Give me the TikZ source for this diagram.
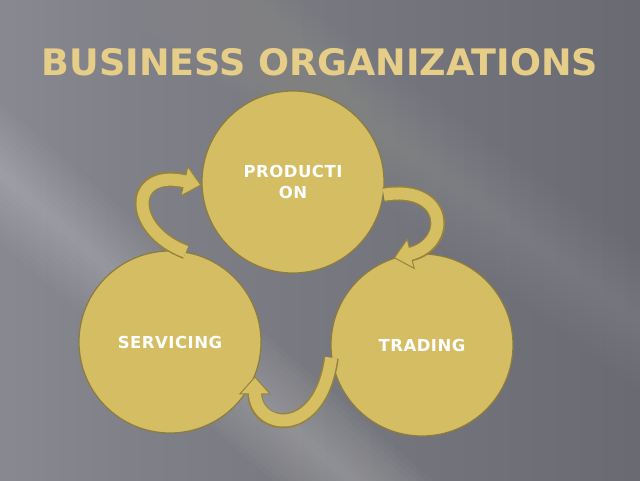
\documentclass[tikz,border=0pt]{standalone}
\usepackage{fontspec}
\setsansfont{DejaVu Sans}
\usetikzlibrary{arrows.meta}
\usetikzlibrary{positioning}
\definecolor{bgleft}{RGB}{158,159,166}
\definecolor{bgmid}{RGB}{128,129,136}
\definecolor{bgright}{RGB}{92,93,100}
\definecolor{titlegold}{RGB}{230,206,136}
\definecolor{discfill}{RGB}{213,189,100}
\definecolor{discedge}{RGB}{140,124,62}
\definecolor{ribbonfill}{RGB}{214,190,98}
\definecolor{ribbonedge}{RGB}{150,132,60}
\pgfdeclarehorizontalshading{slide}{100bp}{color(0bp)=(bgleft); color(35bp)=(bgmid); color(100bp)=(bgright)}
\tikzset{
  disc/.style={circle, draw=discedge, line width=1.2pt, fill=discfill,
    minimum size=182pt, inner sep=0pt, text=white, align=center,
    font=\sffamily\bfseries\fontsize{16.5}{21}\selectfont\addfontfeatures{LetterSpace=3}},
  ribbon/.style={draw=ribbonedge, line width=15pt,
    -{Triangle[length=18pt,width=32pt,line width=1pt,fill=ribbonfill]},
    postaction={draw=ribbonfill, line width=12pt, shorten >=16pt, -}}
}

\begin{document}
\begin{tikzpicture}[x=1pt,y=1pt]
  \useasboundingbox (0,0) rectangle (640,480);
  \shade[shading=slide] (0,0) rectangle (640,480);
  % light streaks
  \begin{scope}
    \clip (0,0) rectangle (640,480);
    \foreach \w in {7,14,...,70} {
      \fill[white, opacity=0.024] (-60,360+\w) -- (640,-252+\w) -- (640,-252-\w) -- (-60,360-\w) -- cycle;
      \fill[white, opacity=0.008] (-100,700+\w) -- (640,160+\w) -- (640,160-\w) -- (-100,700-\w) -- cycle;
    }
  \end{scope}
  \node (title) at (320,418) [text=titlegold,
    font=\sffamily\bfseries\fontsize{36.5}{40}\selectfont] {BUSINESS ORGANIZATIONS};
  \node[disc] (prod) at (293,298) {PRODUCTI\\ON};
  \node[disc] (serv) at (170,138) {SERVICING};
  \node[disc] (trad) at (422,135) {TRADING};
  \draw[ribbon] (serv.80) .. controls (128,250) and (128,312) .. (prod.182);
  \draw[ribbon] (prod.-8) .. controls (448,296) and (452,236) .. (trad.108);
  \draw[ribbon] (trad.188) .. controls (320,40) and (255,50) .. (serv.-22);
\end{tikzpicture}
\end{document}
